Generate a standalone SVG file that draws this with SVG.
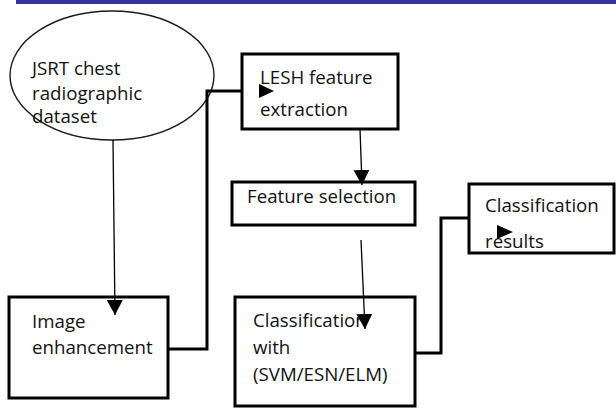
<svg xmlns="http://www.w3.org/2000/svg" width="616" height="410" viewBox="0 0 616 410">
<style>
.box{fill:#fff;stroke:#000;stroke-width:3}
.ell{fill:#fff;stroke:#1a1a1a;stroke-width:1.4}
.t{font-family:"Open Sans","Liberation Sans",sans-serif;font-size:18.7px;fill:#111}
.thin{fill:none;stroke:#000;stroke-width:1.3}
.thick{fill:none;stroke:#000;stroke-width:3}
.head{fill:#000}
</style>
<defs>
<marker id="arr" markerUnits="userSpaceOnUse" markerWidth="16" markerHeight="16" viewBox="0 0 16 16" refX="15" refY="8" orient="auto">
<path d="M0,0 L15,8 L0,16 Z" fill="#000"/>
</marker>
</defs>
<rect x="16" y="0" width="600" height="4" fill="#333399"/>
<g id="n-jsrt">
<ellipse class="ell" cx="112" cy="75.5" rx="102" ry="64.5"/>
<text class="t" x="32" y="75">JSRT chest</text>
<text class="t" x="32" y="100">radiographic</text>
<text class="t" x="32" y="123">dataset</text>
</g>
<g id="n-lesh">
<rect class="box" x="242" y="54" width="156" height="75"/>
<text class="t" x="260" y="84">LESH feature</text>
<text class="t" x="260" y="116">extraction</text>
</g>
<g id="n-fs">
<rect class="box" x="232" y="182" width="183" height="43"/>
<text class="t" x="247" y="203">Feature selection</text>
</g>
<g id="n-cr">
<rect class="box" x="469" y="184" width="145" height="69"/>
<text class="t" x="485" y="212">Classification</text>
<text class="t" x="485" y="248">results</text>
</g>
<g id="n-ie">
<rect class="box" x="9" y="297" width="159" height="101"/>
<text class="t" x="32" y="328">Image</text>
<text class="t" x="32" y="354">enhancement</text>
</g>
<g id="n-cw">
<rect class="box" x="235" y="297" width="180" height="109"/>
<text class="t" x="253" y="327">Classification</text>
<text class="t" x="253" y="354">with</text>
<text class="t" x="253" y="381">(SVM/ESN/ELM)</text>
</g>
<g id="connectors">
<line class="thin" x1="113" y1="140" x2="115" y2="315" marker-end="url(#arr)"/>
<polyline class="thick" points="168,349 207,349 207,91 242,91"/>
<path class="head" d="M259,84 L274,91 L259,98 Z"/>
<line class="thin" x1="360" y1="129" x2="362" y2="185" marker-end="url(#arr)"/>
<line class="thin" x1="361" y1="240" x2="365" y2="329" marker-end="url(#arr)"/>
<polyline class="thick" points="415,353 441,353 441,218 469,218"/>
<path class="head" d="M497,225 L513,232 L497,239 Z"/>
</g>
</svg>
